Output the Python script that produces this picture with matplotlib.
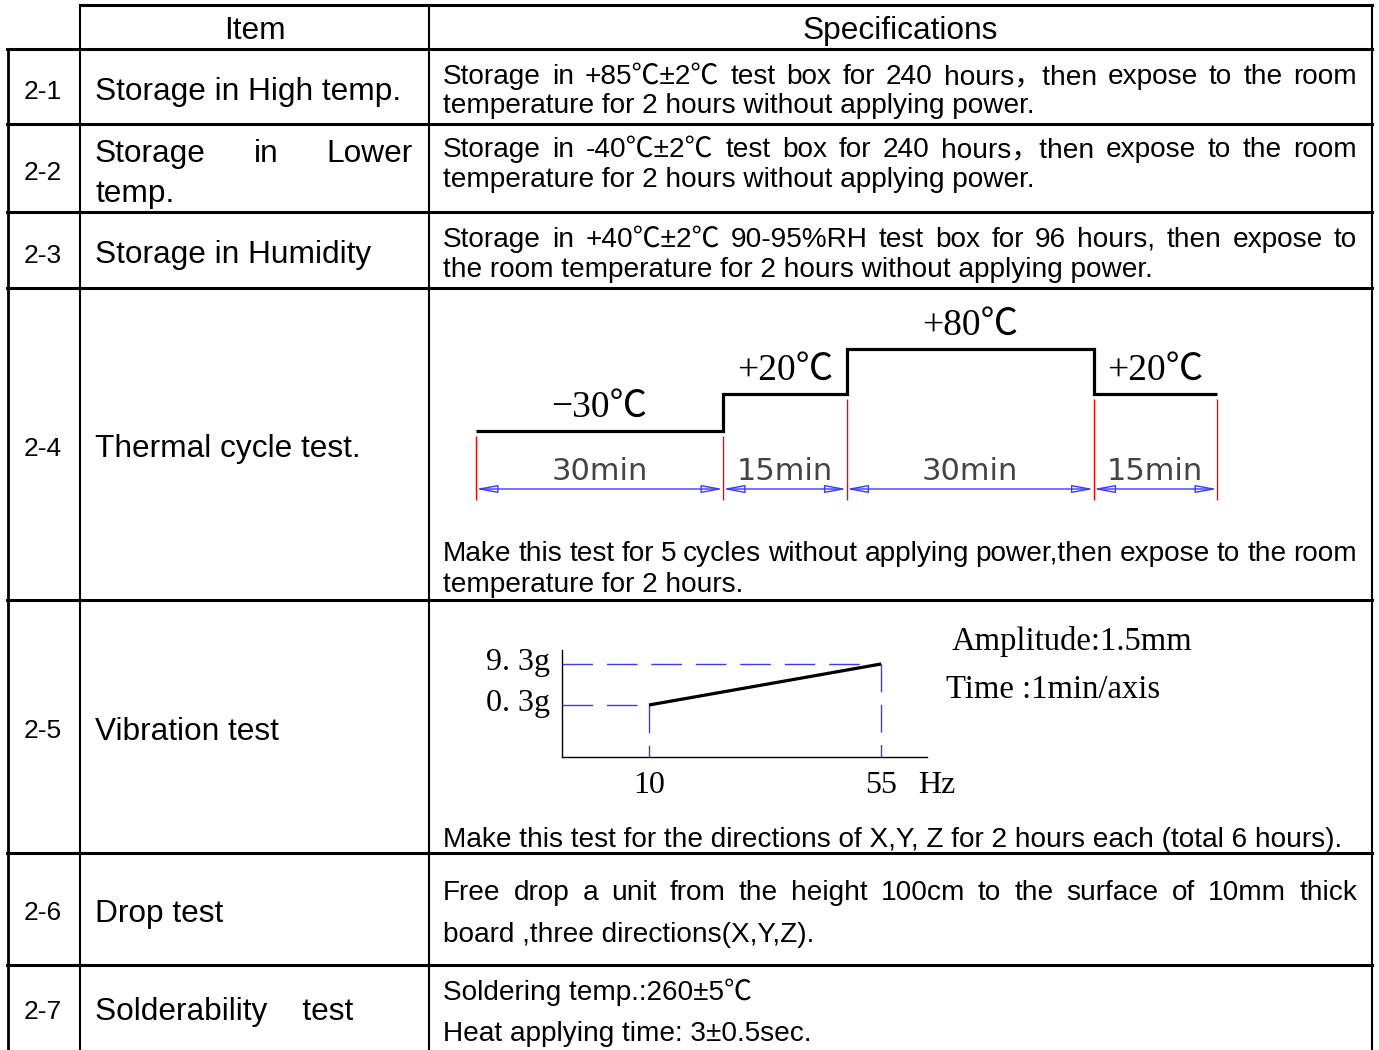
import numpy as np
import matplotlib
matplotlib.use("Agg")
import matplotlib.pyplot as plt
import matplotlib.transforms as mtransforms
from matplotlib.patches import FancyArrowPatch

# ---------------- data ----------------
header_labels = ["Item", "Specifications"]
row_ids = ["2-1", "2-2", "2-3", "2-4", "2-5", "2-6", "2-7"]
item_lines = [
    ["Storage in High temp."],
    ["Storage in Lower", "temp."],
    ["Storage in Humidity"],
    ["Thermal cycle test."],
    ["Vibration test"],
    ["Drop test"],
    ["Solderability    test"],
]
item_justify = [[False], [True, False], [False], [False], [False], [False], [False]]
spec_lines = [
    ["Storage in +85℃±2℃  test box for 240 hours，then expose to the room",
     "temperature for 2 hours without applying power."],
    ["Storage in -40℃±2℃  test box for 240 hours，then expose to the room",
     "temperature for 2 hours without applying power."],
    ["Storage in +40℃±2℃  90-95%RH test box for 96 hours, then expose to",
     "the room temperature for 2 hours without applying power."],
    ["Make this test for 5 cycles without applying power,then expose to the room",
     "temperature for 2 hours."],
    ["Make this test for the directions of X,Y, Z for 2 hours each (total 6 hours)."],
    ["Free drop a unit from the height 100cm to the surface of 10mm thick",
     "board ,three directions(X,Y,Z)."],
    ["Soldering temp.:260±5℃",
     "Heat applying time: 3±0.5sec."],
]
spec_justify = [[True, False], [True, False], [True, False], [True, False],
                [False], [True, False], [False, False]]

cycle_temps = [-30, 20, 80, 20]
cycle_minutes = [30, 15, 30, 15]
cycle_temp_labels = ["−30℃", "+20℃", "+80℃", "+20℃"]
cycle_dur_labels = ["30min", "15min", "30min", "15min"]

vib_freq = [10, 55]
vib_accel = [0.3, 9.3]
vib_accel_labels = ["0. 3g", "9. 3g"]
vib_freq_labels = ["10", "55"]
vib_unit = "Hz"
vib_notes = ["Amplitude:1.5mm", "Time :1min/axis"]

# ---------------- layout ----------------
W, H = 1379, 1050
X_LEFT, X_NUM, X_ITEM, X_RIGHT = 8, 80, 429, 1372
Y_HEAD_TOP = 5
ROW_EDGES = [49, 124, 212, 288, 600, 853, 965]
Y_BOTTOM = 1050
HEAD_BASE = 39
ID_BASE = [99, 180, 263, 456, 738, 920, 1019]
ITEM_BASE = [[100], [162, 202], [263], [457], [740], [922], [1020]]
SPEC_BASE = [[84, 113], [157, 187], [247, 277], [561, 592], [847], [900, 942], [1000, 1041]]
ITEM_X0, ITEM_X1 = 95, 413
SPEC_X0, SPEC_X1 = 443, 1357

SANS = ["Liberation Sans", "Noto Sans CJK SC", "DejaVu Sans"]
SERIF = ["Liberation Serif", "Noto Sans CJK SC", "DejaVu Sans"]
BLUE = "#3a3aff"

fig = plt.figure(figsize=(W / 100, H / 100), dpi=100)
fig.patch.set_facecolor("white")
ax0 = fig.add_axes([0, 0, 1, 1])
ax0.set_xlim(0, W)
ax0.set_ylim(H, 0)
ax0.axis("off")
renderer = fig.canvas.get_renderer()

# ---- table grid ----
HLW, VLW = 2.2, 1.5
ax0.plot([X_NUM, X_RIGHT], [Y_HEAD_TOP, Y_HEAD_TOP], color="k", lw=HLW, solid_capstyle="projecting")
for y in ROW_EDGES:
    ax0.plot([X_LEFT - 1, X_RIGHT], [y, y], color="k", lw=HLW, solid_capstyle="projecting")
ax0.plot([X_LEFT, X_LEFT], [ROW_EDGES[0], Y_BOTTOM], color="k", lw=2.0)
for x in (X_NUM, X_ITEM, X_RIGHT):
    ax0.plot([x, x], [Y_HEAD_TOP, Y_BOTTOM], color="k", lw=VLW)


def draw_line(text, x0, x1, y, justify, **kw):
    if not justify:
        ax0.text(x0, y, text, ha="left", va="baseline", **kw)
        return
    words = text.split()
    objs = [ax0.text(x0, y, w, ha="left", va="baseline", **kw) for w in words]
    widths = [t.get_window_extent(renderer).width for t in objs]
    gap = (x1 - x0 - sum(widths)) / (len(words) - 1)
    x = x0
    for t, w in zip(objs, widths):
        t.set_x(x)
        x += w + gap


# ---- header ----
ax0.text((X_NUM + X_ITEM) / 2, HEAD_BASE, header_labels[0], ha="center", va="baseline",
         fontsize=22.8, family=SANS)
ax0.text((X_ITEM + X_RIGHT) / 2, HEAD_BASE, header_labels[1], ha="center", va="baseline",
         fontsize=22.8, family=SANS)

# ---- rows ----
for i, rid in enumerate(row_ids):
    ax0.text((X_LEFT + X_NUM) / 2 - 1, ID_BASE[i], rid, ha="center", va="baseline",
             fontsize=19, family=SANS)
    for line, just, yb in zip(item_lines[i], item_justify[i], ITEM_BASE[i]):
        draw_line(line, ITEM_X0, ITEM_X1, yb, just, fontsize=22.8, family=SANS)
    for line, just, yb in zip(spec_lines[i], spec_justify[i], SPEC_BASE[i]):
        draw_line(line, SPEC_X0, SPEC_X1, yb, just, fontsize=20.2, family=SANS)

# ---- thermal cycle diagram ----
TL, TR, TT, TB = 476, 1217, 300, 510
ax_t = fig.add_axes([TL / W, 1 - TB / H, (TR - TL) / W, (TB - TT) / H])
edges = np.concatenate([[0], np.cumsum(cycle_minutes)])
ax_t.set_xlim(edges[0], edges[-1])
ax_t.set_ylim(-136, 146)
ax_t.axis("off")
ax_t.stairs(cycle_temps, edges, baseline=None, color="k", lw=2.3, clip_on=False)

lower = [cycle_temps[0]] + [min(a, b) for a, b in zip(cycle_temps[:-1], cycle_temps[1:])] + [cycle_temps[-1]]
ylo, yhi = ax_t.get_ylim()
red_bottom = ylo + 0.048 * (yhi - ylo)
ax_t.vlines(edges, red_bottom, [v - 7 for v in lower], colors="#ff0000", lw=1.0, clip_on=False)

blend_t = mtransforms.blended_transform_factory(ax_t.transData, ax_t.transAxes)
for a, b, T, tl, dl in zip(edges[:-1], edges[1:], cycle_temps, cycle_temp_labels, cycle_dur_labels):
    arr = FancyArrowPatch((a, 0.1), (b, 0.1), transform=blend_t,
                          arrowstyle="<|-|>,head_length=0.65,head_width=0.12",
                          mutation_scale=20, fc="none", ec=BLUE, lw=1.0,
                          shrinkA=0, shrinkB=0, clip_on=False)
    ax_t.add_patch(arr)
    ax_t.text((a + b) / 2, 0.181, dl, transform=blend_t, ha="center", va="center",
              fontsize=22, color="#444444", family=["DejaVu Sans"])
    ax_t.annotate(tl, xy=((a + b) / 2, T), xytext=(0, 10), textcoords="offset points",
                  ha="center", va="baseline", fontsize=27, family=SERIF,
                  annotation_clip=False)

# ---- vibration diagram ----
VL, VR, VT, VB = 562, 927, 650, 757
ax_v = fig.add_axes([VL / W, 1 - VB / H, (VR - VL) / W, (VB - VT) / H])
ax_v.set_xlim(-6.87, 63.9)
ax_v.set_ylim(-11.11, 12.37)
ax_v.patch.set_visible(False)
for s in ("top", "right"):
    ax_v.spines[s].set_visible(False)
for s in ("left", "bottom"):
    ax_v.spines[s].set_linewidth(1.0)
ax_v.set_xticks([])
ax_v.set_yticks([])
xlo = ax_v.get_xlim()[0]
vlo = ax_v.get_ylim()[0]
ax_v.hlines(vib_accel, xlo, vib_freq, colors=BLUE, lw=1.0, linestyles=(0, (22, 10)))
ax_v.vlines(vib_freq, vib_accel, vlo, colors=BLUE, lw=1.0, linestyles=(0, (20, 9)))
ax_v.plot(vib_freq, vib_accel, color="k", lw=2.3, solid_capstyle="butt")
for a, lab in zip(vib_accel, vib_accel_labels):
    ax_v.annotate(lab, xy=(0, a), xycoords=("axes fraction", "data"), xytext=(-9, -4.3),
                  textcoords="offset points", ha="right", va="baseline",
                  fontsize=23, family=SERIF)
for f, lab in zip(vib_freq, vib_freq_labels):
    ax_v.annotate(lab, xy=(f, 0), xycoords=("data", "axes fraction"), xytext=(0, -26),
                  textcoords="offset points", ha="center", va="baseline",
                  fontsize=23, family=SERIF)
ax_v.annotate(vib_unit, xy=(vib_freq[-1], 0), xycoords=("data", "axes fraction"),
              xytext=(40, -26), textcoords="offset points", ha="center", va="baseline",
              fontsize=23, family=SERIF)
ax0.text(952, 650, vib_notes[0], ha="left", va="baseline", fontsize=23.5, family=SERIF)
ax0.text(946, 698, vib_notes[1], ha="left", va="baseline", fontsize=23.5, family=SERIF)

fig.savefig("out.png", dpi=100, facecolor="white")
